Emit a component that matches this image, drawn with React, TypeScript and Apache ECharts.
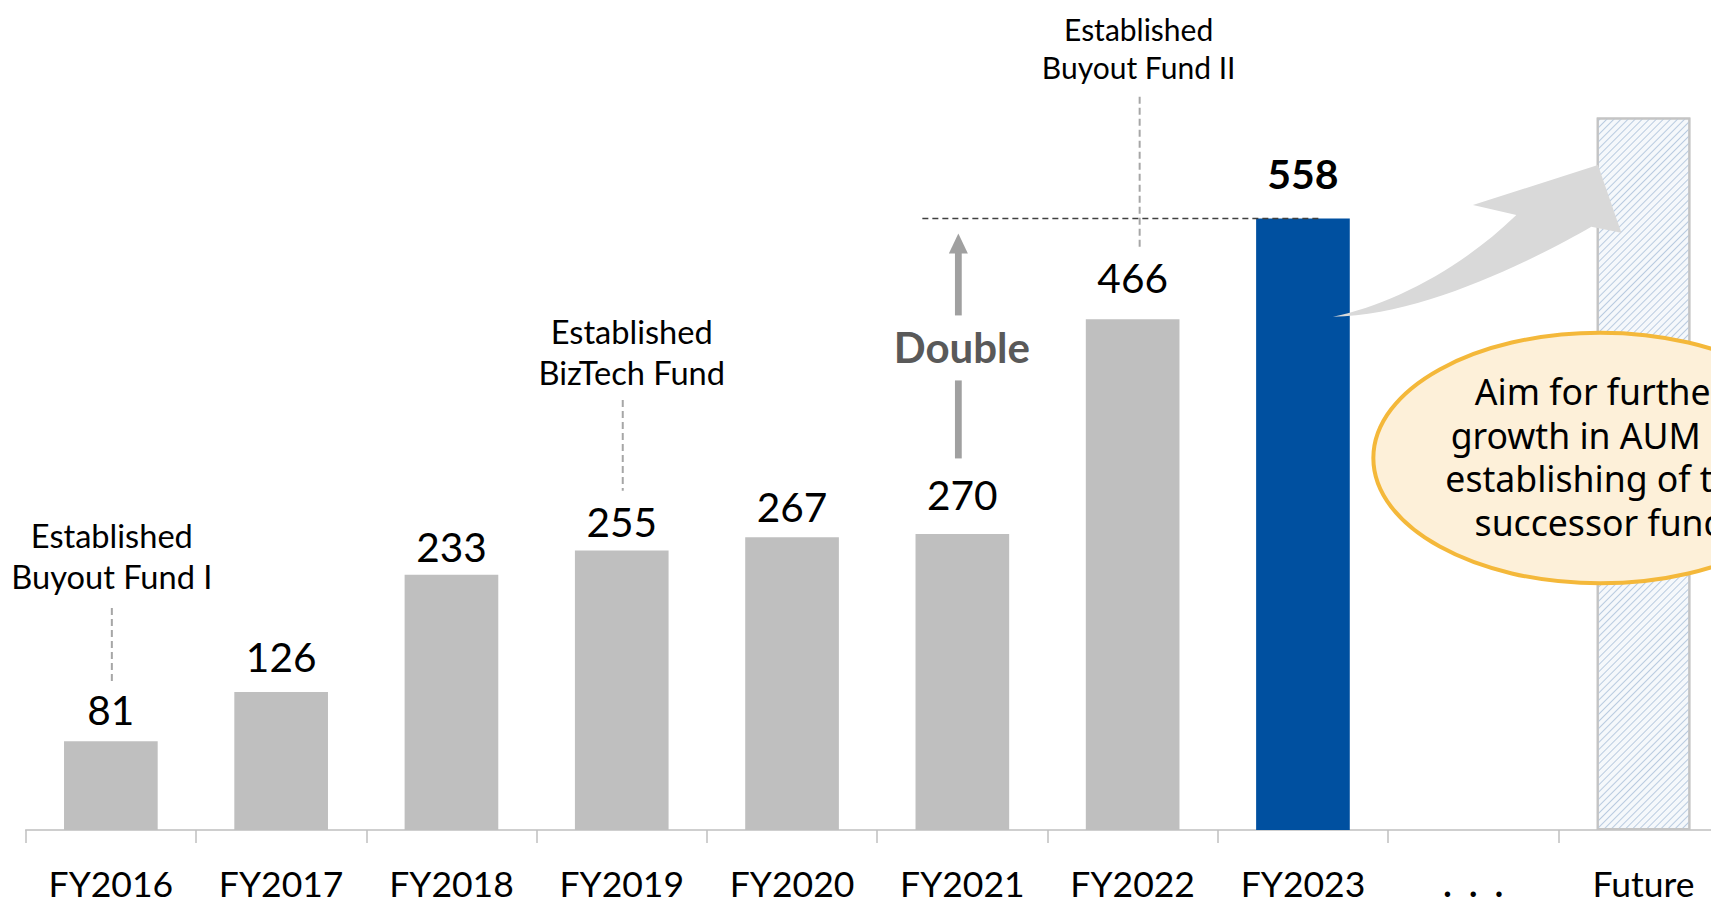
import React, { useEffect, useRef } from "react";
import * as echarts from "echarts";

// Assets under management by fiscal year (JPY bn)
const categories = ["FY2016", "FY2017", "FY2018", "FY2019", "FY2020", "FY2021", "FY2022", "FY2023", "…", "Future"];
const aum: (number | null)[] = [81, 126, 233, 255, 267, 270, 466, 558, null, 650];
const highlightYear = "FY2023";
const gapCategory = "…";
const futureCategory = "Future";

const milestones = [
  { year: "FY2016", text: "Established\nBuyout Fund I" },
  { year: "FY2019", text: "Established\nBizTech Fund" },
  { year: "FY2022", text: "Established\nBuyout Fund II" },
];
const doublingFrom = "FY2021";
const doublingLabel = "Double";
const outlookText = "Aim for further\ngrowth in AUM by\nestablishing of the\nsuccessor fund";

// Gap between each value label and its bar (px)
const labelDistance = [11, 15, 7.6, 8.3, 10, 19.4, 21.6, 24.6, 0, 0];

// Curved block arrow, drawn from its tail at (0, 0)
const growthArrowPath =
  "M0,0 C56.7,-11.7 126.7,-46.7 183.4,-101.7 L140,-111.7 L265,-151.7 L288.4,-84 L258.4,-90 C196.7,-54.7 86.7,-0.7 0,0 Z";
echarts.graphic.registerShape("growthArrow", echarts.graphic.extendPath(growthArrowPath, {}));

const FONT = "Lato, 'Noto Sans', sans-serif";

// Per-milestone layout: text x shift, text top, font size, line height, leader top/bottom
const milestoneLayout = [
  { textDx: 1, lineDx: 1, textTop: 515, size: 32.6, lh: 41, lineTop: 608, lineBottom: 682 },
  { textDx: 10, lineDx: 1, textTop: 311.7, size: 32.6, lh: 40.5, lineTop: 400, lineBottom: 490.7 },
  { textDx: 6, lineDx: 7, textTop: 9.5, size: 30, lh: 38, lineTop: 96.7, lineBottom: 248 },
];

export default function App() {
  const ref = useRef<HTMLDivElement>(null);

  useEffect(() => {
    const el = ref.current!;
    const chart = echarts.init(el, null, { renderer: "svg" });

    const data = aum.map((v, i) => {
      const cat = categories[i];
      if (cat === futureCategory) {
        return {
          value: v,
          itemStyle: {
            color: "#f5f8fb",
            borderColor: "#c4c4c4",
            borderWidth: 2,
            decal: {
              symbol: "rect",
              symbolSize: 1,
              color: "#b9cbe0",
              dashArrayX: [1, 0],
              dashArrayY: [1, 3.4],
              rotation: -Math.PI / 4,
            },
          },
          label: { show: false },
        };
      }
      if (cat === highlightYear) {
        return {
          value: v,
          itemStyle: { color: "#0050a0" },
          label: { fontWeight: "bold", fontSize: 41, distance: labelDistance[i] },
        };
      }
      return { value: v, label: { distance: labelDistance[i] } };
    });

    chart.setOption({
      animation: false,
      grid: {
        left: 25.7,
        right: -17.7,
        top: 62.8,
        bottom: 69,
        containLabel: false,
        outerBoundsMode: "none",
      },
      xAxis: {
        type: "category",
        data: categories,
        axisLine: { show: true, lineStyle: { color: "#bfbfbf", width: 1.5 } },
        axisTick: { show: true, alignWithLabel: false, length: 13, lineStyle: { color: "#bfbfbf", width: 1.5 } },
        axisLabel: {
          interval: 0,
          margin: 35,
          fontFamily: FONT,
          fontSize: 35.5,
          color: "#000",
          formatter: (v: string) => (v === gapCategory ? "{dots|.\u00a0\u00a0.\u00a0\u00a0.}" : v),
          rich: { dots: { fontFamily: FONT, fontSize: 35.5, fontWeight: "bold", color: "#000" } },
        },
      },
      yAxis: { type: "value", min: 0, max: 700, show: false },
      series: [
        {
          type: "bar",
          data,
          barWidth: "55%",
          itemStyle: { color: "#bfbfbf" },
          label: {
            show: true,
            position: "top",
            distance: 11,
            fontFamily: FONT,
            fontSize: 40.6,
            color: "#000",
          },
        },
      ],
    });

    const px = (cat: string, v: number) =>
      chart.convertToPixel({ xAxisIndex: 0, yAxisIndex: 0 }, [categories.indexOf(cat), v]) as number[];

    const graphics: any[] = [];

    // Milestone notes with dashed leaders
    milestones.forEach((m, i) => {
      const lay = milestoneLayout[i];
      const [cx] = px(m.year, 0);
      graphics.push({
        type: "line",
        z: 10,
        shape: { x1: cx + lay.lineDx, y1: lay.lineTop, x2: cx + lay.lineDx, y2: lay.lineBottom },
        style: { stroke: "#a6a6a6", lineWidth: 2, lineDash: [7, 4] },
      });
      graphics.push({
        type: "text",
        z: 10,
        style: {
          text: m.text,
          x: cx + lay.textDx,
          y: lay.textTop,
          textAlign: "center",
          textVerticalAlign: "top",
          font: `${lay.size}px ${FONT}`,
          lineHeight: lay.lh,
          fill: "#000",
        },
      });
    });

    // Reference line at the latest AUM level
    const latest = aum[categories.indexOf(highlightYear)] as number;
    const [fromX] = px(doublingFrom, 0);
    const [hiX, lineY] = px(highlightYear, latest);
    graphics.push({
      type: "line",
      z: 11,
      shape: { x1: fromX - 40, y1: lineY, x2: hiX + 17, y2: lineY },
      style: { stroke: "#404040", lineWidth: 1.5, lineDash: [6, 4] },
    });

    // "Double" arrow
    const ax = fromX - 4;
    const arrowGrey = "#a0a0a0";
    graphics.push({
      type: "polygon",
      z: 10,
      shape: { points: [[ax - 9.5, lineY + 35], [ax, lineY + 15], [ax + 9.5, lineY + 35]] },
      style: { fill: arrowGrey },
    });
    graphics.push({
      type: "rect",
      z: 10,
      shape: { x: ax - 3.4, y: lineY + 34, width: 6.8, height: 63 },
      style: { fill: arrowGrey },
    });
    graphics.push({
      type: "rect",
      z: 10,
      shape: { x: ax - 3.4, y: lineY + 162, width: 6.8, height: 78 },
      style: { fill: arrowGrey },
    });
    graphics.push({
      type: "text",
      z: 10,
      style: {
        text: doublingLabel,
        x: ax + 3.5,
        y: lineY + 128.5,
        textAlign: "center",
        textVerticalAlign: "middle",
        font: `bold 42px ${FONT}`,
        fill: "#595959",
      },
    });

    // Curved growth arrow toward the future bar
    graphics.push({
      type: "growthArrow",
      z: 12,
      x: hiX + 30,
      y: lineY + 98.3,
      style: { fill: "#d9d9d9" },
    });

    // Outlook bubble
    const [futX] = px(futureCategory, 0);
    graphics.push({
      type: "ellipse",
      z: 13,
      shape: { cx: futX - 43.5, cy: 458, rx: 226.7, ry: 125.3 },
      style: { fill: "#fdf0d9", stroke: "#f4b83a", lineWidth: 4 },
    });
    graphics.push({
      type: "text",
      z: 14,
      style: {
        text: outlookText,
        x: futX - 43.5,
        y: 456.5,
        textAlign: "center",
        textVerticalAlign: "middle",
        font: "35.6px 'Noto Sans', sans-serif",
        lineHeight: 43.7,
        fill: "#000",
      },
    });

    chart.setOption({ graphic: { elements: graphics } });

    return () => chart.dispose();
  }, []);

  return (
    <div
      ref={ref}
      style={{ position: "fixed", left: 0, top: 0, width: 1711, height: 899, background: "#fff" }}
    />
  );
}
